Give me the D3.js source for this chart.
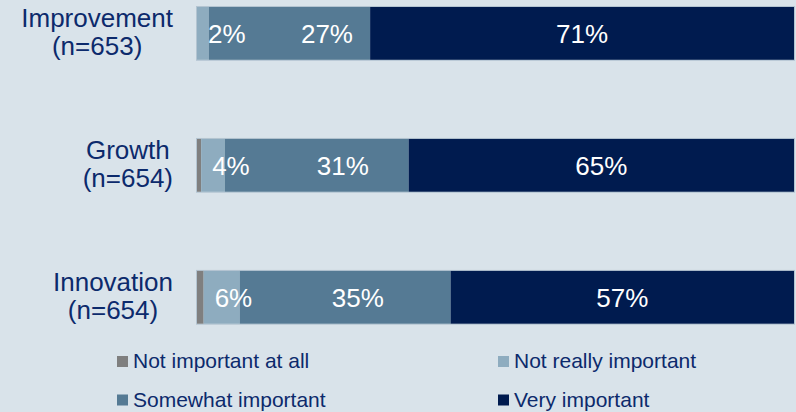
<!DOCTYPE html>
<html>
<head>
<meta charset="utf-8">
<script src="https://cdn.jsdelivr.net/npm/d3@7"></script>
<style>
  html, body { margin: 0; padding: 0; background: #d9e3ea; }
  svg { display: block; font-family: "Liberation Sans", Arial, sans-serif; }
</style>
</head>
<body>
<svg id="chart" width="796" height="412"></svg>
<script>
// Survey rows, top to bottom
const categories = ["Improvement", "Growth", "Innovation"];
const sampleSizes = ["(n=653)", "(n=654)", "(n=654)"];

// Share of respondents per answer (%), one array per answer
const notImportantAtAll = [0, 0.7, 1.1];
const notReallyImportant = [2, 4, 6];
const somewhatImportant = [27, 31, 35];
const veryImportant = [71, 65, 57];

const seriesNames = ["Not important at all", "Not really important", "Somewhat important", "Very important"];
const seriesValues = [notImportantAtAll, notReallyImportant, somewhatImportant, veryImportant];
const seriesColors = ["#7f7f7f", "#8eacbf", "#557a94", "#001b4f"];
const labelledSeries = [false, true, true, true];

const svg = d3.select("#chart");
const textColor = "#0c2a6c";

const left = 197, right = 794;
const y = d3.scaleBand()
  .domain(categories)
  .range([7, 323.7])
  .paddingInner(0.6)
  .paddingOuter(0);

categories.forEach((cat, i) => {
  const total = d3.sum(seriesValues, s => s[i]);
  const x = d3.scaleLinear().domain([0, total]).range([left, right]);
  const g = svg.append("g");
  let cum = 0;
  const segs = seriesValues.map((s, k) => {
    const seg = { k, v: s[i], x0: cum, x1: cum + s[i] };
    cum += s[i];
    return seg;
  });

  // outline of the whole bar
  g.append("rect")
    .attr("x", x(0) - 0.5).attr("y", y(cat) - 0.5)
    .attr("width", x(total) - x(0) + 1).attr("height", y.bandwidth() + 1)
    .attr("fill", "none").attr("stroke", "#b3c4d1").attr("stroke-width", 1);

  g.selectAll("rect.seg").data(segs.filter(d => d.v > 0)).join("rect")
    .attr("class", "seg")
    .attr("x", d => x(d.x0))
    .attr("y", y(cat))
    .attr("width", d => x(d.x1) - x(d.x0))
    .attr("height", y.bandwidth())
    .attr("fill", d => seriesColors[d.k]);

  // value labels: narrow segments get labels set from their start edge
  const cy = y(cat) + y.bandwidth() / 2 + 10;
  g.selectAll("text.val").data(segs.filter(d => labelledSeries[d.k])).join("text")
    .attr("class", "val")
    .attr("x", d => d.k === 1 ? x(d.x0) + 11 : d.k === 2 ? x(d.x0) + 92 : (x(d.x0) + x(d.x1)) / 2)
    .attr("y", cy)
    .attr("text-anchor", d => d.k === 3 ? "middle" : "start")
    .attr("fill", "#ffffff")
    .attr("font-size", 26)
    .text(d => d3.format(".0f")(d.v) + "%");

  // category label, two centred lines right-aligned as a block
  const mid = y(cat) + y.bandwidth() / 2;
  const lab = svg.append("g");
  const l1 = lab.append("text").attr("y", mid - 6).text(cat);
  const l2 = lab.append("text").attr("y", mid + 21.5).text(sampleSizes[i]);
  lab.selectAll("text").attr("font-size", 26).attr("fill", textColor).attr("text-anchor", "middle");
  const w = Math.max(l1.node().getComputedTextLength(), l2.node().getComputedTextLength());
  lab.selectAll("text").attr("x", 173 - w / 2);
});

// legend, two columns by two rows
const legendPos = [[117, 368], [498, 368], [117, 406.5], [498, 406.5]];
const legend = svg.append("g");
seriesNames.forEach((name, k) => {
  const [lx, ly] = legendPos[k];
  legend.append("rect")
    .attr("x", lx).attr("y", ly - 12).attr("width", 11).attr("height", 11)
    .attr("fill", seriesColors[k]);
  legend.append("text")
    .attr("x", lx + 16).attr("y", ly)
    .attr("font-size", 21).attr("fill", textColor)
    .text(name);
});
</script>
</body>
</html>
